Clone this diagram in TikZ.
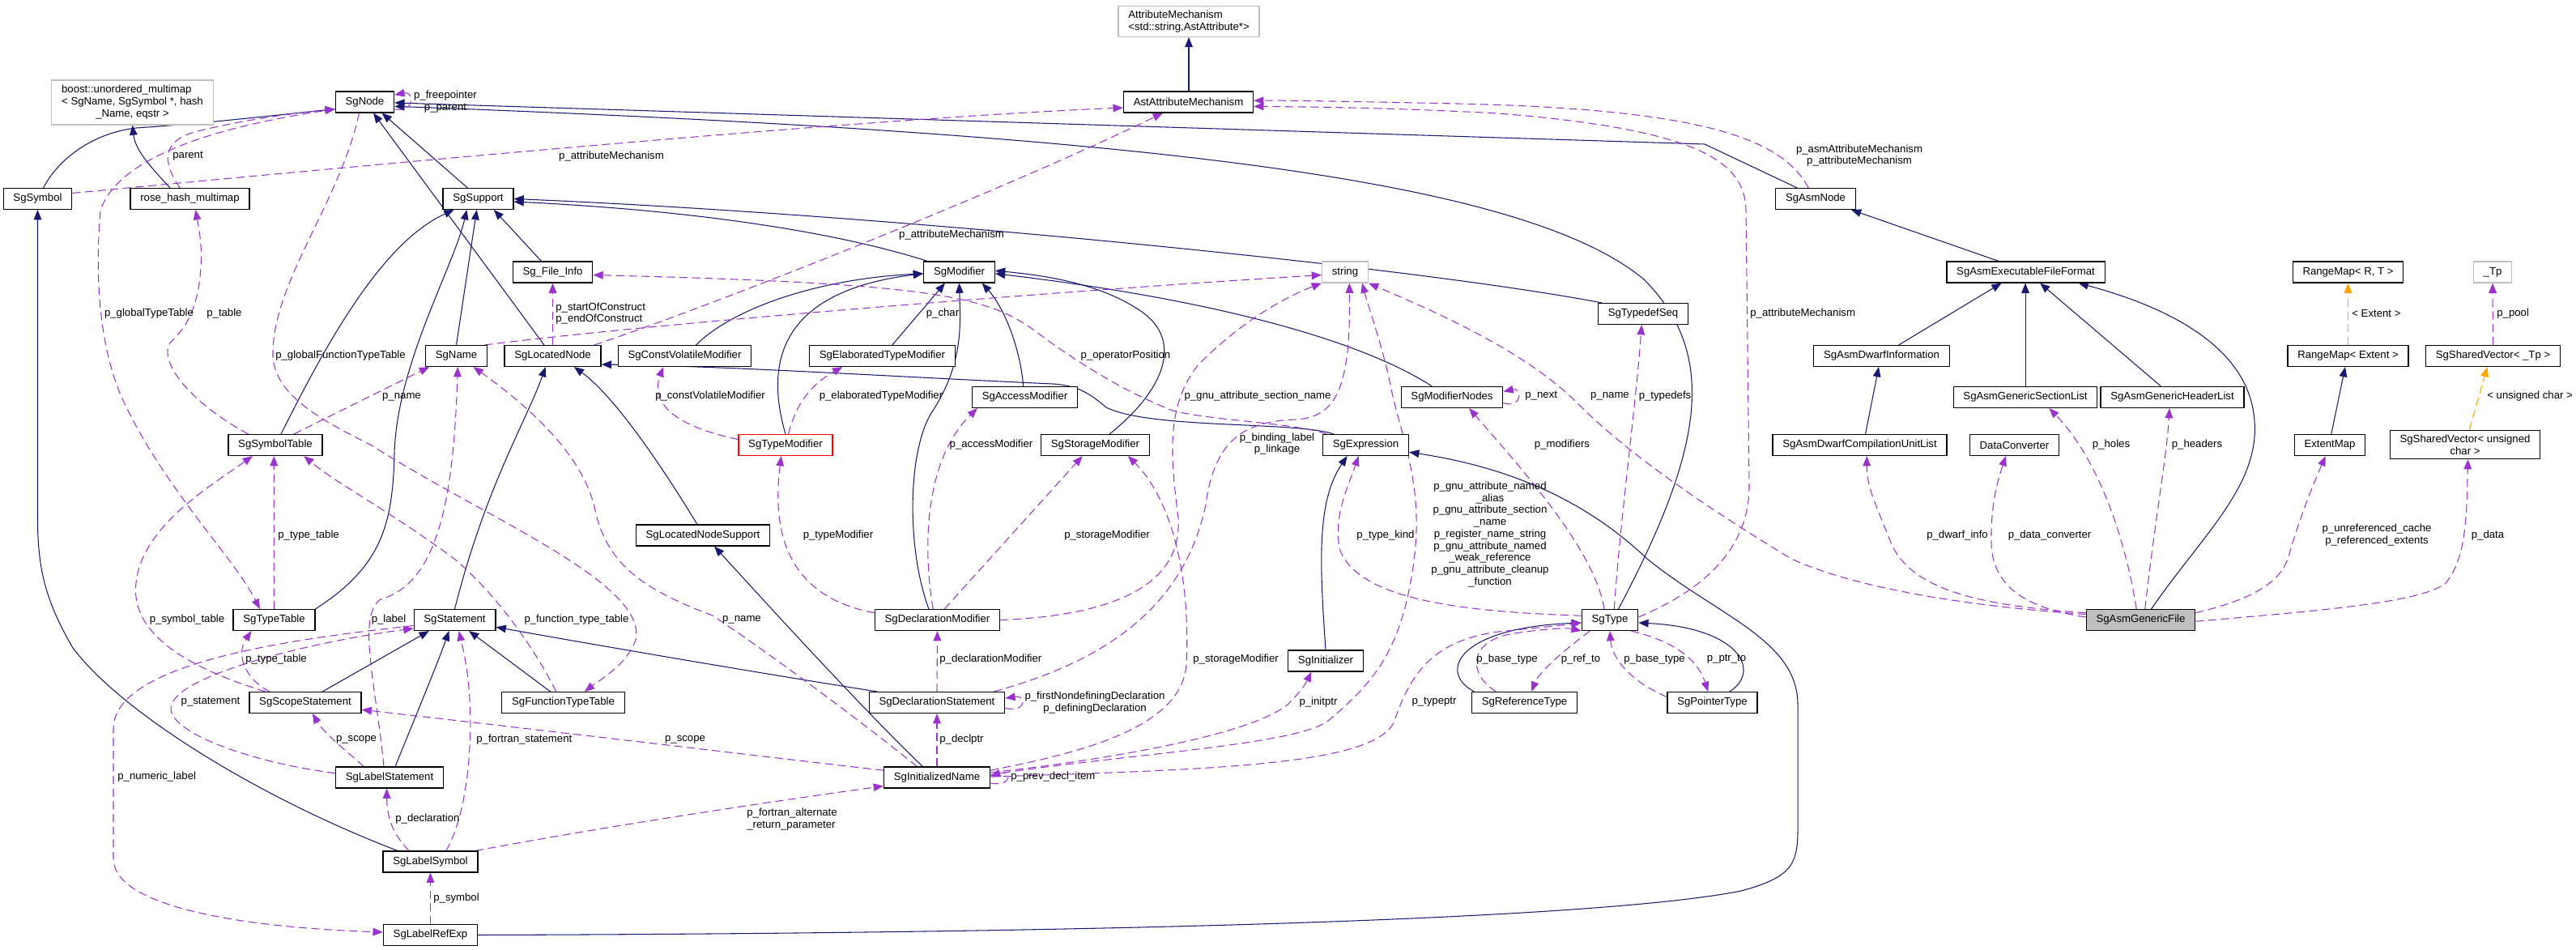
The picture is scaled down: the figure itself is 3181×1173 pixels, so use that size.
\documentclass[tikz,border=0pt]{standalone}
\usepackage{fontspec}
\setmainfont{Liberation Sans}
\usetikzlibrary{arrows.meta,backgrounds}

\definecolor{midnight}{RGB}{25,25,112}
\definecolor{orchid}{RGB}{154,50,205}
\definecolor{tmplorange}{RGB}{255,165,0}
\definecolor{boxgrey}{RGB}{191,191,191}
\newcommand{\gfont}{\fontsize{7.5}{8.4}\selectfont}

\tikzset{
  cls/.style={draw=black, line width=0.7pt, fill=white, inner xsep=7pt, inner ysep=3pt, minimum height=14.7pt},
  extcls/.style={cls, draw=boxgrey},
  lbl/.style={inner sep=0pt},
  headtip/.style={-{Triangle[length=7pt,width=5.5pt]}},
  inh/.style={draw=midnight, line width=0.6pt, headtip},
  uses/.style={draw=orchid, line width=0.6pt, dash pattern=on 5.7pt off 3.2pt, headtip},
  inst/.style={uses, draw=tmplorange},
}

\begin{document}
\begin{tikzpicture}[x=0.02cm, y=-0.02cm, font=\gfont]
	\useasboundingbox (0,0) rectangle (3181,1173);
	
	% classes, upper rows
	\node[extcls] (boostmap) at (163.5,126.5) {\begin{tabular}{@{}l@{}}boost::unordered\_multimap\\< SgName, SgSymbol *, hash\\\multicolumn{1}{@{}c@{}}{\_Name, eqstr >}\end{tabular}};
	\node[extcls, align=left] (attrmech) at (1468,26.5) {AttributeMechanism\\<std::string,AstAttribute*>};
	\node[cls] (sgnode) at (450.5,126) {SgNode};
	\node[cls] (astattr) at (1467.5,126) {AstAttributeMechanism};
	\node[cls] (symbol) at (46.5,245.5) {SgSymbol};
	\node[cls] (rosehash) at (234.5,245.5) {rose\_hash\_multimap};
	\node[cls] (support) at (590.5,245.5) {SgSupport};
	\node[cls] (asmnode) at (2242,245.5) {SgAsmNode};
	\node[cls] (fileinfo) at (682.5,336) {Sg\_File\_Info};
	\node[cls] (modifier) at (1184.5,336) {SgModifier};
	\node[extcls] (string) at (1661,336) {string};
	\node[cls] (execformat) at (2501.5,336) {SgAsmExecutableFileFormat};
	\node[cls] (rangemapRT) at (2899.5,336) {RangeMap< R, T >};
	\node[extcls] (tp) at (3078,336) {\_Tp};
	\node[cls] (typedefseq) at (2029,387.5) {SgTypedefSeq};
	
	% classes, middle rows
	\node[cls] (name) at (563.5,439.5) {SgName};
	\node[cls] (locnode) at (682.5,439.5) {SgLocatedNode};
	\node[cls] (cvmod) at (845.5,439.5) {SgConstVolatileModifier};
	\node[cls] (elabmod) at (1089.5,439.5) {SgElaboratedTypeModifier};
	\node[cls] (dwarfinfo) at (2323.5,439.5) {SgAsmDwarfInformation};
	\node[cls] (rangemapE) at (2899.5,439.5) {RangeMap< Extent >};
	\node[cls] (sharedtp) at (3078.5,439.5) {SgSharedVector< \_Tp >};
	\node[cls] (accmod) at (1265.5,490.5) {SgAccessModifier};
	\node[cls] (modnodes) at (1793,490.5) {SgModifierNodes};
	\node[cls] (seclist) at (2501,490.5) {SgAsmGenericSectionList};
	\node[cls] (hdrlist) at (2682.5,490.5) {SgAsmGenericHeaderList};
	\node[cls] (symtab) at (340,549.5) {SgSymbolTable};
	\node[cls, draw=red] (typemod) at (970,549.5) {SgTypeModifier};
	\node[cls] (stormod) at (1352.5,549.5) {SgStorageModifier};
	\node[cls] (expr) at (1686.5,549.5) {SgExpression};
	\node[cls] (dwarfcu) at (2296.5,549.5) {SgAsmDwarfCompilationUnitList};
	\node[cls] (dataconv) at (2487.5,549.5) {DataConverter};
	\node[cls] (extentmap) at (2877,549.5) {ExtentMap};
	\node[cls, align=center] (sharedchar) at (3044,549) {SgSharedVector< unsigned\\char >};
	\node[cls] (locsupport) at (868,661) {SgLocatedNodeSupport};
	
	% classes, lower rows
	\node[cls] (typetab) at (338.5,765.5) {SgTypeTable};
	\node[cls] (stmt) at (561.5,765.5) {SgStatement};
	\node[cls] (declmod) at (1157.5,765.5) {SgDeclarationModifier};
	\node[cls] (type) at (1988,765.5) {SgType};
	\node[cls, fill=boxgrey] (genfile) at (2643.5,765.5) {SgAsmGenericFile};
	\node[cls] (initializer) at (1637,816) {SgInitializer};
	\node[cls] (scopestmt) at (377,867.5) {SgScopeStatement};
	\node[cls] (functab) at (695.5,867.5) {SgFunctionTypeTable};
	\node[cls] (declstmt) at (1157,867.5) {SgDeclarationStatement};
	\node[cls] (reftype) at (1882.5,867.5) {SgReferenceType};
	\node[cls] (ptrtype) at (2114.5,867.5) {SgPointerType};
	\node[cls] (labelstmt) at (481,960) {SgLabelStatement};
	\node[cls] (initname) at (1157,960) {SgInitializedName};
	\node[cls] (labelsym) at (531.5,1064) {SgLabelSymbol};
	\node[cls] (labelref) at (531.5,1154.5) {SgLabelRefExp};
	
	\begin{scope}[on background layer]
	% inheritance
	\draw[inh] ([xshift=4pt]symbol.north) .. controls (70,200) and (110,165) .. (168,158) .. controls (260,152) and (360,140) .. ([yshift=-5pt]sgnode.west);
	\draw[inh] ([xshift=-14pt]rosehash.north) .. controls (185,205) and (167,185) .. (boostmap.south);
	\draw[inh] ([xshift=-7.5pt]support.north) -- ([xshift=12pt]sgnode.south);
	\draw[inh] ([xshift=-6pt]locnode.north) -- ([xshift=6pt]sgnode.south);
	\draw[inh] ([xshift=-13pt]asmnode.north) -- (2105,178) -- ([yshift=-0.5pt]sgnode.east);
	\draw[inh] ([xshift=6pt]type.north) .. controls (2100,560) and (2125,440) .. (2030,345) .. controls (1880,220) and (1400,165) .. ([yshift=-3pt]sgnode.east);
	\draw[inh] (attrmech.south |- astattr.north) -- (attrmech.south);
	\draw[inh] ([xshift=3pt]modifier.north west) .. controls (1060,295) and (900,262) .. ([yshift=-2pt]support.east);
	\draw[inh] ([xshift=3pt]typedefseq.north west) .. controls (1750,330) and (1100,265) .. (support.east);
	\draw[inh] ([xshift=-8pt]fileinfo.north) -- ([xshift=11pt]support.south);
	\draw[inh] ([xshift=4pt]symtab.north) .. controls (400,430) and (470,300) .. ([xshift=-17pt]support.south);
	\draw[inh] (typetab.north east) .. controls (470,700) and (485,650) .. (487,560) .. controls (490,450) and (560,330) .. ([xshift=-8pt]support.south);
	\draw[inh] (name.north) -- ([xshift=-1pt]support.south);
	\draw[inh] (stmt.north) .. controls (600,600) and (650,520) .. ([xshift=-5pt]locnode.south);
	\draw[inh] ([xshift=-4pt]locsupport.north) .. controls (820,580) and (760,490) .. ([xshift=15pt]locnode.south);
	\draw[inh] ([xshift=8pt]expr.north west) .. controls (1600,520) and (1420,530) .. (1366,503) .. controls (1345,485) and (1330,476) .. (1300,474) .. controls (1100,465) and (900,452) .. ([yshift=-6pt]locnode.east);
	\draw[inh] ([xshift=-10pt]initname.north) .. controls (1070,880) and (960,760) .. ([xshift=8pt]locsupport.south);
	
	% modifier family
	\draw[inh] ([xshift=8pt]cvmod.north) .. controls (900,385) and (1000,345) .. ([yshift=-1pt]modifier.west);
	\draw[inh] (typemod.north) .. controls (945,450) and (960,360) .. ([yshift=-1pt]modifier.west);
	\draw[inh] ([xshift=7pt]elabmod.north) -- ([xshift=-10pt]modifier.south);
	\draw[inh] ([xshift=-6pt]declmod.north) .. controls (1120,680) and (1120,560) .. (1150,510) .. controls (1190,450) and (1186,400) .. (modifier.south);
	\draw[inh] ([xshift=-1pt]accmod.north) .. controls (1260,430) and (1240,380) .. ([xshift=16pt]modifier.south);
	\draw[inh] ([xshift=10pt]stormod.north) .. controls (1440,480) and (1460,420) .. (1410,385) .. controls (1360,350) and (1290,340) .. ([yshift=1pt]modifier.east);
	\draw[inh] ([xshift=-14pt]modnodes.north) .. controls (1680,420) and (1500,370) .. ([yshift=-1pt]modifier.east);
	
	% types and expressions
	\draw[inh] ([xshift=2pt]reftype.north west) .. controls (1775,830) and (1800,775) .. ([yshift=-2pt]type.west);
	\draw[inh] ([xshift=12pt]ptrtype.north) .. controls (2175,830) and (2150,775) .. ([yshift=-2pt]type.east);
	\draw[inh] (labelref.east) .. controls (1500,1152) and (2000,1130) .. (2150,1100) .. controls (2225,1080) and (2220,1060) .. (2220,1000) -- (2220,870) .. controls (2220,790) and (2120,760) .. (2034,690) .. controls (1950,610) and (1850,575) .. ([yshift=-5pt]expr.east);
	\draw[inh] (initializer.north) .. controls (1630,700) and (1625,620) .. ([xshift=-13pt]expr.south);
	\draw[inh] ([xshift=-23pt]labelsym.north) .. controls (320,985) and (150,880) .. (90,800) .. controls (55,740) and (46.5,700) .. (46.5,640) -- (symbol.south);
	
	% asm family
	\draw[inh] ([xshift=-19pt]execformat.north) -- ([xshift=25pt]asmnode.south);
	\draw[inh] ([xshift=12pt]dwarfinfo.north) -- ([xshift=-17pt]execformat.south);
	\draw[inh] (seclist.north) -- (seclist.north |- execformat.south);
	\draw[inh] ([xshift=-8pt]hdrlist.north) -- ([xshift=10pt]execformat.south);
	\draw[inh] ([xshift=7.4pt]genfile.north) .. controls (2720,660) and (2790,600) .. (2784,520) .. controls (2778,430) and (2680,380) .. ([xshift=37pt]execformat.south);
	\draw[inh] ([xshift=4pt]dwarfcu.north) -- ([xshift=-2pt]dwarfinfo.south);
	\draw[inh] ([xshift=1pt]extentmap.north) -- ([xshift=-2pt]rangemapE.south);
	
	% statements
	\draw[inh] ([xshift=6pt]declstmt.north west) .. controls (900,825) and (700,790) .. ([yshift=-5pt]stmt.east);
	\draw[inh] ([xshift=12pt]scopestmt.north) -- ([xshift=-18pt]stmt.south);
	\draw[inh] ([xshift=4pt]labelstmt.north) .. controls (515,880) and (540,820) .. ([xshift=-4pt]stmt.south);
	\draw[inh] ([xshift=-9pt]functab.north) -- ([xshift=10pt]stmt.south);
	
	% template instances
	\draw[inst] (rangemapE.north) -- (rangemapRT.south);
	\draw[inst] ([xshift=3pt]sharedchar.north) -- ([xshift=-4pt]sharedtp.south);
	
	% usage, SgNode and tables
	\draw[uses] ([yshift=-5pt]sgnode.east) .. controls (512,140) and (512,112) .. ([yshift=5pt]sgnode.east);
	\draw[uses] ([xshift=-7pt]rosehash.north) .. controls (200,200) and (200,175) .. (240,163) .. controls (300,148) and (360,140) .. ([yshift=-5pt]sgnode.west);
	\draw[uses] ([yshift=-5pt]sgnode.west) .. controls (320,148) and (150,180) .. (124,260) .. controls (118,330) and (120,420) .. (150,490) .. controls (200,600) and (290,690) .. ([xshift=-10pt]typetab.north);
	\draw[uses] ([xshift=-4pt]sgnode.south) .. controls (420,250) and (335,350) .. (337,440) .. controls (340,490) and (400,520) .. (459,550) .. controls (600,640) and (800,720) .. (785,790) .. controls (775,820) and (740,840) .. ([xshift=15pt]functab.north);
	\draw[uses] ([xshift=-19pt]symtab.north) .. controls (240,500) and (195,450) .. (210,423) .. controls (230,405) and (245,380) .. (248,330) .. controls (250,300) and (245,280) .. ([xshift=4pt]rosehash.south);
	\draw[uses] ([xshift=13pt]symtab.north) -- ([xshift=-19pt]name.south);
	\draw[uses] ([xshift=-28pt]scopestmt.north) .. controls (250,830) and (160,790) .. (168,720) .. controls (175,650) and (260,600) .. ([xshift=-16pt]symtab.south);
	\draw[uses] (typetab.north) -- ([xshift=-1pt]symtab.south);
	\draw[uses] ([xshift=-5pt]functab.north) .. controls (665,810) and (620,740) .. (561,690) .. controls (480,630) and (420,600) .. ([xshift=20pt]symtab.south);
	\draw[uses] ([xshift=-25pt]scopestmt.north) .. controls (305,840) and (290,810) .. ([xshift=-16pt]typetab.south);
	
	% usage, attribute mechanism and file info
	\draw[uses] ([yshift=4pt]symbol.east) .. controls (600,190) and (1100,145) .. ([yshift=-4pt]astattr.west);
	\draw[uses] ([xshift=-5pt]locnode.north east) .. controls (900,370) and (1250,230) .. ([xshift=-18pt]astattr.south);
	\draw[uses] ([xshift=-5pt]asmnode.north) .. controls (2200,170) and (2100,135) .. (1800,128) .. controls (1650,125) and (1600,124) .. ([yshift=1pt]astattr.east);
	\draw[uses] ([yshift=2pt]type.east) .. controls (2100,730) and (2160,680) .. (2160,600) -- (2156,260) .. controls (2155,200) and (2100,160) .. (1850,140) .. controls (1700,132) and (1600,132) .. ([yshift=-3pt]astattr.east);
	\draw[uses] (locnode.north) -- (fileinfo.south);
	\draw[uses] ([xshift=3pt]expr.north west) .. controls (1600,522) and (1500,520) .. (1448,507) .. controls (1380,480) and (1320,440) .. (1280,410) .. controls (1220,365) and (1150,350) .. ([yshift=-2pt]fileinfo.east);
	\draw[uses] ([xshift=-2pt]name.north east) .. controls (800,400) and (1300,360) .. ([yshift=-2pt]string.west);
	
	% usage, modifiers
	\draw[uses] ([yshift=4pt]typemod.west) .. controls (850,530) and (800,505) .. ([xshift=-15pt]cvmod.south);
	\draw[uses] ([xshift=2pt]typemod.north) .. controls (985,490) and (1010,470) .. ([xshift=-28pt]elabmod.south);
	\draw[uses] ([yshift=5pt]declmod.west) .. controls (990,740) and (950,680) .. ([xshift=-3pt]typemod.south);
	\draw[uses] ([xshift=-3pt]declmod.north) .. controls (1140,680) and (1140,570) .. ([xshift=4pt]accmod.south west);
	\draw[uses] ([xshift=5pt]declmod.north) -- ([xshift=-9pt]stormod.south);
	\draw[uses] ([yshift=5pt]initname.east) .. controls (1330,930) and (1460,900) .. (1465,820) .. controls (1470,720) and (1450,620) .. ([xshift=23pt]stormod.south);
	\draw[uses] (declmod.east) .. controls (1380,760) and (1460,720) .. (1455,640) .. controls (1445,560) and (1440,500) .. (1480,450) .. controls (1530,400) and (1580,370) .. (string.south west);
	\draw[uses] ([xshift=-8pt]declstmt.north east) .. controls (1350,820) and (1460,760) .. (1489,623) .. controls (1500,540) and (1540,520) .. (1600,518) .. controls (1650,515) and (1668,480) .. ([xshift=3pt]string.south);
	\draw[uses] ([yshift=2pt]initname.east) .. controls (1400,930) and (1600,920) .. (1640,890) .. controls (1700,840) and (1730,800) .. (1745,700) .. controls (1760,600) and (1730,540) .. (1718,480) .. controls (1708,430) and (1690,380) .. ([xshift=12pt]string.south);
	
	% usage, types
	\draw[uses] ([yshift=3.5pt]initname.east) .. controls (1350,940) and (1540,910) .. (1590,870) .. controls (1605,855) and (1612,845) .. ([xshift=-10pt]initializer.south);
	\draw[uses] ([yshift=0.5pt]initname.east) .. controls (1500,950) and (1700,945) .. (1722,890) .. controls (1745,820) and (1780,790) .. (1850,780) .. controls (1900,775) and (1930,772) .. ([yshift=-2pt]type.west);
	\draw[uses] ([xshift=-20pt]reftype.north) .. controls (1810,830) and (1815,790) .. (1870,782) .. controls (1910,776) and (1935,775) .. (type.south west);
	\draw[uses] ([xshift=-14pt]type.south) .. controls (1935,800) and (1900,830) .. ([xshift=5pt]reftype.north);
	\draw[uses] ([yshift=4pt]ptrtype.west) .. controls (2010,840) and (1990,810) .. (type.south);
	\draw[uses] ([xshift=15pt]type.south) .. controls (2060,790) and (2095,810) .. ([xshift=-3pt]ptrtype.north);
	\draw[uses] ([yshift=3pt]type.west) .. controls (1800,755) and (1680,740) .. (1655,680) .. controls (1645,640) and (1665,600) .. ([xshift=-5pt]expr.south);
	\draw[uses] ([xshift=-4pt]type.north) .. controls (1970,680) and (1880,580) .. ([xshift=12pt]modnodes.south);
	\draw[uses] ([xshift=3pt]type.north) .. controls (2000,650) and (2020,500) .. ([xshift=-1pt]typedefseq.south);
	\draw[uses] ([yshift=-4pt]modnodes.east) .. controls (1880,505) and (1880,478) .. ([yshift=4pt]modnodes.east);
	
	% usage, generic file
	\draw[uses] ([yshift=4pt]genfile.west) .. controls (2450,750) and (2300,730) .. (2212,690) .. controls (2080,610) and (2000,550) .. (1947,497) .. controls (1880,430) and (1760,380) .. (string.south east);
	\draw[uses] ([yshift=5pt]genfile.west) .. controls (2450,748) and (2360,730) .. (2335,670) .. controls (2315,620) and (2305,600) .. ([xshift=5pt]dwarfcu.south);
	\draw[uses] ([yshift=2pt]genfile.west) .. controls (2495,750) and (2460,720) .. (2459,670) .. controls (2458,620) and (2468,590) .. ([xshift=-6pt]dataconv.south);
	\draw[uses] ([xshift=-3pt]genfile.north) .. controls (2622,650) and (2585,560) .. ([xshift=16.7pt]seclist.south);
	\draw[uses] ([xshift=3pt]genfile.north) .. controls (2660,650) and (2676,560) .. ([xshift=-2pt]hdrlist.south);
	\draw[uses] ([yshift=5pt]genfile.east) .. controls (2780,740) and (2820,720) .. (2828,680) .. controls (2843,630) and (2860,590) .. ([xshift=-3pt]extentmap.south);
	\draw[uses] ([yshift=-1pt]genfile.east) .. controls (2850,755) and (2990,745) .. (3020,720) .. controls (3045,690) and (3046,640) .. ([xshift=2pt]sharedchar.south);
	\draw[uses] (sharedtp.north) -- (tp.south);
	
	% usage, statements and labels
	\draw[uses] ([yshift=-4pt]stmt.west) .. controls (350,790) and (140,820) .. (140,900) -- (140,1060) .. controls (140,1120) and (300,1145) .. ([yshift=2pt]labelref.west);
	\draw[uses] ([yshift=3pt]labelstmt.west) .. controls (300,940) and (200,900) .. (212,870) .. controls (225,830) and (400,790) .. ([yshift=-6pt]stmt.west);
	\draw[uses] ([xshift=-4pt]labelstmt.north) .. controls (465,850) and (440,760) .. (470,740) .. controls (540,720) and (560,620) .. ([xshift=1pt]name.south);
	\draw[uses] ([xshift=-14pt]initname.north) .. controls (1050,880) and (940,800) .. (880,760) .. controls (800,730) and (750,700) .. (735,630) .. controls (720,560) and (650,500) .. ([xshift=12pt]name.south);
	\draw[uses] ([xshift=-15pt]labelsym.north) .. controls (485,1030) and (478,1010) .. ([xshift=-2pt]labelstmt.south);
	\draw[uses] ([xshift=11pt]labelsym.north) .. controls (580,1000) and (585,900) .. (578,840) .. controls (575,810) and (570,795) .. ([xshift=3pt]stmt.south);
	\draw[uses] ([xshift=-2pt]labelsym.north east) .. controls (750,1020) and (950,990) .. ([yshift=-6pt]initname.west);
	\draw[uses] ([yshift=5pt]initname.west) .. controls (950,935) and (700,905) .. ([yshift=-5pt]scopestmt.east);
	\draw[uses] ([xshift=-18pt]labelstmt.north) .. controls (425,925) and (400,905) .. ([xshift=5pt]scopestmt.south);
	\draw[uses] ([yshift=-4pt]initname.east) .. controls (1250,972) and (1250,950) .. ([yshift=1pt]initname.east);
	\draw[uses] (initname.north) -- (declstmt.south);
	\draw[uses] (declstmt.north) -- (declmod.south);
	\draw[uses] ([yshift=-4pt]declstmt.east) .. controls (1268,880) and (1268,858) .. ([yshift=3pt]declstmt.east);
	\draw[uses] (labelref.north) -- (labelsym.south);
	\end{scope}
	
	% edge labels
	\node[lbl, align=center] (lb-free) at (550,125.5) {p\_freepointer\\p\_parent};
	\node[lbl, anchor=west] (lb-parent) at (213,193) {parent};
	\node[lbl] (lb-globtype) at (184,387) {p\_globalTypeTable};
	\node[lbl, anchor=west] (lb-table) at (255,387) {p\_table};
	\node[lbl] (lb-globfunc) at (420.5,439) {p\_globalFunctionTypeTable};
	\node[lbl] (lb-symname) at (496,490) {p\_name};
	\node[lbl] (lb-symattr) at (755,193) {p\_attributeMechanism};
	\node[lbl] (lb-locattr) at (1175,290) {p\_attributeMechanism};
	\node[lbl, align=center] (lb-asmattr) at (2296,192) {p\_asmAttributeMechanism\\p\_attributeMechanism};
	\node[lbl, anchor=west] (lb-typeattr) at (2161,387) {p\_attributeMechanism};
	\node[lbl, anchor=west, align=left] (lb-construct) at (686,387) {p\_startOfConstruct\\p\_endOfConstruct};
	\node[lbl] (lb-oppos) at (1390,439) {p\_operatorPosition};
	\node[lbl] (lb-char) at (1164,387) {p\_char};
	\node[lbl] (lb-cv) at (877,489) {p\_constVolatileModifier};
	\node[lbl] (lb-elab) at (1088,489) {p\_elaboratedTypeModifier};
	\node[lbl] (lb-typemod) at (1035,661) {p\_typeModifier};
	\node[lbl] (lb-access) at (1224,549) {p\_accessModifier};
	\node[lbl] (lb-stor1) at (1367,661) {p\_storageModifier};
	\node[lbl, anchor=west] (lb-stor2) at (1473,814) {p\_storageModifier};
	\node[lbl] (lb-gnusect) at (1553,489) {p\_gnu\_attribute\_section\_name};
	\node[lbl, align=center] (lb-binding) at (1577,548) {p\_binding\_label\\p\_linkage};
	\node[lbl, align=center] (lb-gnu) at (1840,660) {p\_gnu\_attribute\_named\\\_alias\\p\_gnu\_attribute\_section\\\_name\\p\_register\_name\_string\\p\_gnu\_attribute\_named\\\_weak\_reference\\p\_gnu\_attribute\_cleanup\\\_function};
	\node[lbl] (lb-initptr) at (1628,867) {p\_initptr};
	\node[lbl] (lb-typeptr) at (1771,867) {p\_typeptr};
	\node[lbl] (lb-rbase) at (1861,814) {p\_base\_type};
	\node[lbl] (lb-refto) at (1952,814) {p\_ref\_to};
	\node[lbl] (lb-pbase) at (2043,814) {p\_base\_type};
	\node[lbl] (lb-ptrto) at (2132,814) {p\_ptr\_to};
	\node[lbl] (lb-typekind) at (1711,661) {p\_type\_kind};
	\node[lbl] (lb-modifiers) at (1929,549) {p\_modifiers};
	\node[lbl] (lb-typedefs) at (2056,489) {p\_typedefs};
	\node[lbl, anchor=west] (lb-next) at (1883,489) {p\_next};
	\node[lbl] (lb-fname) at (1988,489) {p\_name};
	\node[lbl] (lb-dwarf) at (2417,661) {p\_dwarf\_info};
	\node[lbl] (lb-dataconv) at (2531,661) {p\_data\_converter};
	\node[lbl] (lb-holes) at (2607,549) {p\_holes};
	\node[lbl] (lb-headers) at (2713,549) {p\_headers};
	\node[lbl, align=center] (lb-extents) at (2935,660.5) {p\_unreferenced\_cache\\p\_referenced\_extents};
	\node[lbl] (lb-data) at (3072,661) {p\_data};
	\node[lbl, anchor=west] (lb-pool) at (3083,387) {p\_pool};
	\node[lbl, anchor=west] (lb-extent) at (2904,387) {< Extent >};
	\node[lbl, anchor=west] (lb-uchar) at (3071,489) {< unsigned char >};
	\node[lbl, anchor=west] (lb-numlabel) at (145,959) {p\_numeric\_label};
	\node[lbl] (lb-stmt) at (260,867) {p\_statement};
	\node[lbl] (lb-symtab) at (231,765) {p\_symbol\_table};
	\node[lbl, anchor=west] (lb-typetab1) at (343,661) {p\_type\_table};
	\node[lbl] (lb-functype) at (712,765) {p\_function\_type\_table};
	\node[lbl, anchor=west] (lb-typetab2) at (303,814) {p\_type\_table};
	\node[lbl] (lb-label) at (480,765) {p\_label};
	\node[lbl] (lb-iname) at (916,765) {p\_name};
	\node[lbl, anchor=west] (lb-decl) at (488,1011) {p\_declaration};
	\node[lbl, anchor=west] (lb-fortstmt) at (588,913) {p\_fortran\_statement};
	\node[lbl, anchor=west, align=left] (lb-altret) at (922,1011.5) {p\_fortran\_alternate\\\_return\_parameter};
	\node[lbl] (lb-scope1) at (846,913) {p\_scope};
	\node[lbl] (lb-scope2) at (440,913) {p\_scope};
	\node[lbl, anchor=west] (lb-prev) at (1248,959) {p\_prev\_decl\_item};
	\node[lbl, anchor=west] (lb-declptr) at (1160,913) {p\_declptr};
	\node[lbl, anchor=west] (lb-declmod) at (1160,814) {p\_declarationModifier};
	\node[lbl, align=center] (lb-firstdecl) at (1352,867.5) {p\_firstNondefiningDeclaration\\p\_definingDeclaration};
	\node[lbl, anchor=west] (lb-symbol) at (535,1109) {p\_symbol};
\end{tikzpicture}
\end{document}
